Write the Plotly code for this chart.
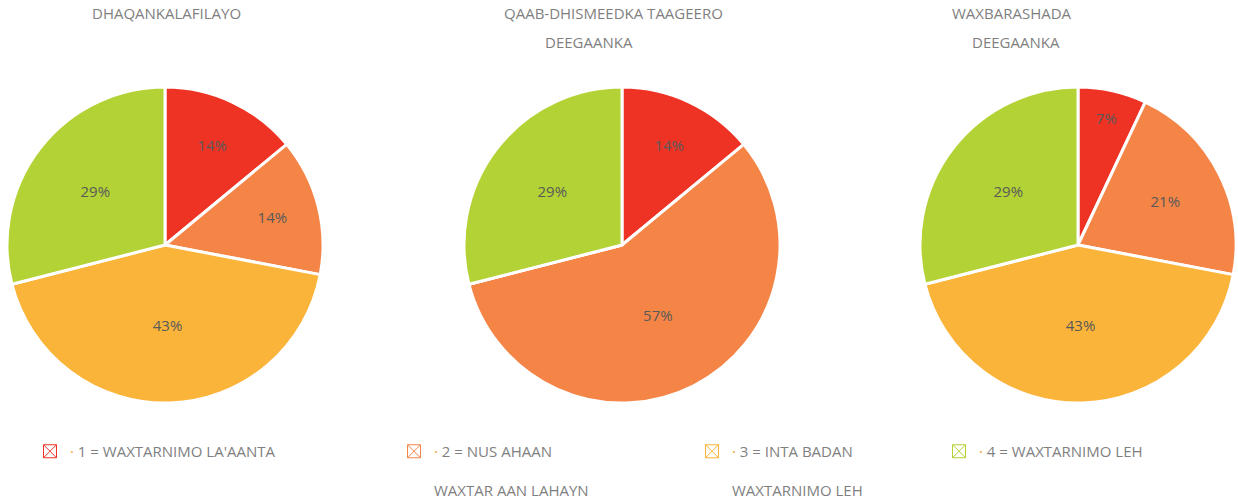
import plotly.graph_objects as go

W, H = 1238, 502

categories = ["1 = WAXTARNIMO LA'AANTA", "2 = NUS AHAAN", "3 = INTA BADAN", "4 = WAXTARNIMO LEH"]
category_line2 = ["", "WAXTAR AAN LAHAYN", "WAXTARNIMO LEH", ""]
colors = ["#EE3325", "#F48547", "#FBB43A", "#B2D235"]

pie_titles = [["DHAQANKALAFILAYO"],
              ["QAAB-DHISMEEDKA TAAGEERO", "DEEGAANKA"],
              ["WAXBARASHADA", "DEEGAANKA"]]
vals_dhaqan = [14, 14, 43, 29]
vals_qaab = [14, 57, 0, 29]
vals_waxbar = [7, 21, 43, 29]
series = [vals_dhaqan, vals_qaab, vals_waxbar]

# layout (pixels)
pie_cx = [165, 622, 1078]
pie_cy = 245
pie_r = 158
title_x = [[166], [613, 589], [1012, 1016]]
title_y = [13, 42]
legend_icon_x = [50, 414, 712, 959]
legend_top = 435

fig = go.Figure()
for i, vals in enumerate(series):
    cx = pie_cx[i]
    fig.add_trace(go.Pie(
        values=vals,
        labels=categories,
        text=[f"{v}%" if v else "" for v in vals],
        textinfo="text",
        textposition="inside",
        insidetextorientation="horizontal",
        sort=False,
        direction="clockwise",
        rotation=0,
        marker=dict(colors=colors, line=dict(color="white", width=3)),
        textfont=dict(family="Open Sans", size=15, color="#595959"),
        showlegend=False,
        hoverinfo="label+percent",
        domain=dict(x=[(cx - pie_r) / W, (cx + pie_r) / W],
                    y=[(H - pie_cy - pie_r) / H, (H - pie_cy + pie_r) / H]),
    ))

for k, (name, line2, col) in enumerate(zip(categories, category_line2, colors)):
    label = f"<span style='color:#F5A030'>·</span> {name}"
    if line2:
        label += "<br><br>" + line2
    lg = "legend" if k == 0 else f"legend{k + 1}"
    fig.add_trace(go.Scatter(
        x=[None], y=[None], mode="markers", name=label,
        marker=dict(symbol="square-x-open", size=13, color=col, line=dict(width=1, color=col)),
        legend=lg, showlegend=True, hoverinfo="skip",
    ))

legend_common = dict(
    orientation="h", xanchor="left", yanchor="top", valign="top",
    font=dict(family="Open Sans", size=15, color="#7F7F7F"),
    bgcolor="rgba(0,0,0,0)", borderwidth=0,
)
layout_legends = {}
for k in range(4):
    key = "legend" if k == 0 else f"legend{k + 1}"
    layout_legends[key] = dict(legend_common,
                               x=(legend_icon_x[k] - 20) / W,
                               y=(H - legend_top) / H)

annotations = []
for i, lines in enumerate(pie_titles):
    for j, t in enumerate(lines):
        annotations.append(dict(
            text=t, x=title_x[i][j] / W, y=(H - title_y[j]) / H,
            xref="paper", yref="paper", xanchor="center", yanchor="middle",
            showarrow=False, font=dict(family="Open Sans", size=15, color="#7F7F7F"),
        ))

fig.update_layout(
    width=W, height=H, autosize=False,
    margin=dict(l=0, r=0, t=0, b=0, autoexpand=False),
    paper_bgcolor="white", plot_bgcolor="white",
    xaxis=dict(visible=False), yaxis=dict(visible=False),
    annotations=annotations,
    **layout_legends,
)

fig.write_html("out.html", config={"displayModeBar": False},
               post_script="document.body.style.margin='0';document.body.style.overflow='hidden';")
